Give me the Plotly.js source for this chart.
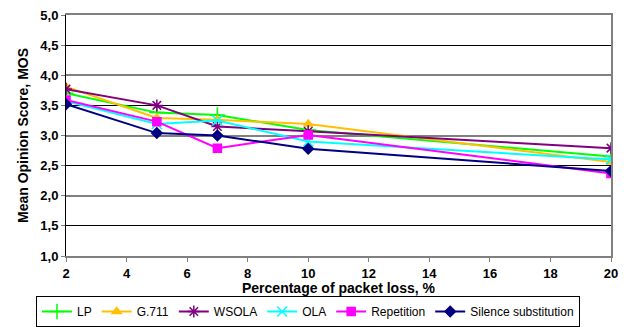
<!DOCTYPE html>
<html>
<head>
<meta charset="utf-8">
<script src="https://cdn.plot.ly/plotly-3.0.1.min.js"></script>
<style>html,body{margin:0;padding:0;background:#fff;}#chart{width:626px;height:327px;}</style>
</head>
<body>
<div id="chart"></div>
<script>
var lossPct = [2, 5, 7, 10, 20];
var seriesNames = ["LP", "G.711", "WSOLA", "OLA", "Repetition", "Silence substitution"];
var lpMOS = [3.70, 3.38, 3.34, 3.09, 2.65];
var g711MOS = [3.81, 3.29, 3.26, 3.19, 2.56];
var wsolaMOS = [3.77, 3.50, 3.15, 3.07, 2.79];
var olaMOS = [3.57, 3.19, 3.25, 2.90, 2.60];
var repetitionMOS = [3.59, 3.23, 2.79, 3.01, 2.37];
var silenceMOS = [3.52, 3.04, 3.00, 2.78, 2.41];
var xTitle = "Percentage of packet loss, %";
var yTitle = "Mean Opinion Score, MOS";

var styles = [
  {color: "#00FF00", symbol: "cross-thin", size: 11},
  {color: "#FFC000", symbol: "triangle-up", size: 8},
  {color: "#800080", symbol: "asterisk", size: 10},
  {color: "#00FFFF", symbol: "x-thin", size: 10},
  {color: "#FF00FF", symbol: "square", size: 8},
  {color: "#000080", symbol: "diamond", size: 8}
];
var values = [lpMOS, g711MOS, wsolaMOS, olaMOS, repetitionMOS, silenceMOS];

var traces = values.map(function(v, i) {
  var s = styles[i];
  return {
    x: lossPct, y: v, name: seriesNames[i], type: "scatter", mode: "lines+markers",
    line: {color: s.color, width: 2},
    marker: {symbol: s.symbol, size: s.size, color: s.color, line: {color: s.color, width: 1.5}}
  };
});
traces.push({x: [], y: [], yaxis: "y2", showlegend: false, hoverinfo: "skip", type: "scatter"});

var font = "Liberation Sans, Arial, sans-serif";
var layout = {
  width: 626, height: 327,
  margin: {l: 66, r: 15, t: 15, b: 71},
  paper_bgcolor: "#fff", plot_bgcolor: "#fff",
  separators: ",.",
  showlegend: true,
  font: {family: font, color: "#000"},
  xaxis: {
    range: [2, 20], tick0: 2, dtick: 2, showgrid: false, zeroline: false,
    showline: true, linecolor: "#808080", linewidth: 2, mirror: true,
    ticks: "outside", ticklen: 4, tickcolor: "#808080",
    tickfont: {family: font, size: 13, color: "#000", weight: "bold"}
  },
  yaxis: {
    range: [1, 5], tick0: 1, dtick: 0.5, tickformat: ".1f",
    showgrid: true, gridcolor: "#000", gridwidth: 1, zeroline: false,
    showline: true, linecolor: "#000", linewidth: 1,
    ticks: "outside", ticklen: 4, tickcolor: "#808080",
    tickfont: {family: font, size: 13, color: "#000", weight: "bold"},
    title: {text: "<b>" + yTitle + "</b>", font: {family: font, size: 14}, standoff: 8}
  },
  yaxis2: {
    overlaying: "y", side: "right", range: [1, 5], tick0: 1, dtick: 1,
    showgrid: true, gridcolor: "#808080", gridwidth: 2, zeroline: false,
    showline: true, linecolor: "#808080", linewidth: 2,
    showticklabels: false, ticks: ""
  },
  annotations: [{
    text: "<b>" + xTitle + "</b>", xref: "paper", yref: "paper", x: 0.5, y: -0.133,
    xanchor: "center", yanchor: "middle", showarrow: false,
    font: {family: font, size: 14, color: "#000"}
  }],
  legend: {
    orientation: "h", xref: "container", yref: "container",
    x: 0.492, xanchor: "center", y: 0.0, yanchor: "bottom",
    bordercolor: "#000", borderwidth: 1, bgcolor: "#fff",
    font: {family: font, size: 12, color: "#000"},
    itemwidth: 30, tracegroupgap: 0
  }
};

Plotly.newPlot("chart", traces, layout, {displayModeBar: false, staticPlot: true});
</script>
</body>
</html>
